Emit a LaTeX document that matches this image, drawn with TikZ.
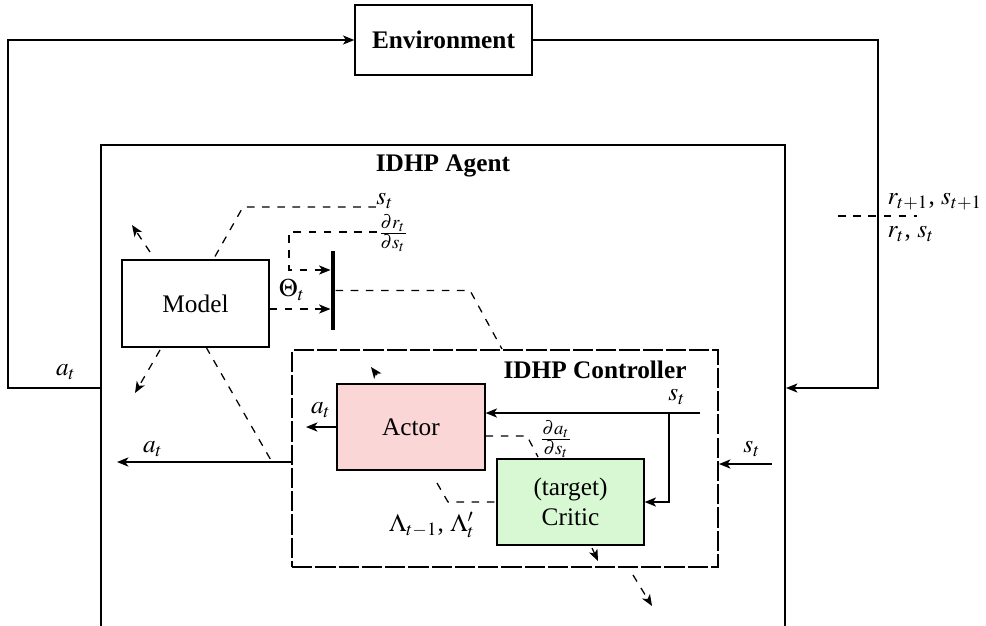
\documentclass[tikz,border=0pt]{standalone}
\usepackage{mathptmx}
\usepackage{fontspec}
\setmainfont{Liberation Serif}
\usetikzlibrary{arrows.meta}
\definecolor{actorfill}{RGB}{250,214,214}
\definecolor{criticfill}{RGB}{216,248,212}
\tikzset{
  blk/.style={draw, line width=0.5pt, inner sep=0pt},
  ttl/.style={font=\bfseries, inner sep=0pt},
  lbl/.style={inner sep=0pt},
  flow/.style={line width=0.5pt},
  iflow/.style={line width=0.75pt},
  arr/.style={-{Stealth[length=4.5pt,width=3.6pt,inset=1.2pt]}},
  dsh/.style={dashed, line width=0.5pt},
  ctrlbox/.style={draw, line width=0.8pt, dash pattern=on 8pt off 1.2pt, inner sep=0pt},
}
\begin{document}
\begin{tikzpicture}[x=0.3953pt, y=-0.3953pt]
\path[use as bounding box] (0,0) rectangle (986,625);
\clip (0,0) rectangle (986,625);

% main blocks
\node[blk, minimum width=70pt, minimum height=27.7pt, font=\bfseries] (env) at (443.5,40) {Environment};
\node[draw, line width=0.8pt, inner sep=0pt, minimum width=270.4pt, minimum height=203.6pt] (agent) at (443,402.5) {};
\node[ttl] (agentlbl) at (443,166) {IDHP Agent};
\node[blk, minimum width=58.1pt, minimum height=34.4pt] (model) at (195.5,303.5) {Model};
\node[fill=black, inner sep=0pt, minimum width=1.6pt, minimum height=31.2pt] (bar) at (333,290.5) {};
\node[ctrlbox, minimum width=168.4pt, minimum height=85.8pt] (ctrl) at (505,458.5) {};
\node[ttl] (ctrllbl) at (595,370) {IDHP Controller};
\node[blk, fill=actorfill, minimum width=58.5pt, minimum height=34pt] (actor) at (411,427) {Actor};
\node[blk, fill=criticfill, minimum width=58.1pt, minimum height=34pt, align=center] (critic) at (570.5,502) {(target)\\Critic};

% helper coordinates
\coordinate (yA) at (0,388);
\coordinate (lt) at (8,40);
\coordinate (rt) at (878,388);
\coordinate (y232) at (0,232);
\coordinate (y270) at (0,270);
\coordinate (y309) at (0,309);
\coordinate (y462) at (0,462);
\coordinate (y436) at (0,436);

% outer loop
\draw[flow,arr] (agent.west |- yA) -| (lt) -- (env.west);
\node[lbl] (la1) at (66,372) {$a_t$};
\draw[flow,arr] (env.east) -| (rt) -- (agent.east |- yA);

% reward / state labels
\coordinate (ra) at (838,216);
\coordinate (rb) at (917,216);
\draw[dsh] (ra) -- (rb);
\node[lbl, anchor=west] (lr1) at (887,202) {$r_{t+1}$, $s_{t+1}$};
\node[lbl, anchor=west] (lr2) at (887,234) {$r_t$, $s_t$};

% model related dashed lines
\node[lbl] (ls1) at (385,201) {$s_t$};
\coordinate (sk) at (243,207);
\coordinate (mt) at (213,260);
\draw[dsh] (ls1.west |- sk) -- (sk) -- (mt);
\node[lbl] (ldr) at (393,233) {$\frac{\partial r_t}{\partial s_t}$};
\coordinate (dk) at (289,270);
\draw[dsh,arr] (ldr.west |- y232) -| (dk) -- (bar.west |- y270);
\node[lbl] (lth) at (292,290) {$\Theta_t$};
\draw[dsh,arr] (model.east |- y309) -- (bar.west |- y309);
\coordinate (bk) at (470,290.5);
\coordinate (cb) at (502,349);
\draw[dsh] (bar.east) -- (bk) -- (cb);
\coordinate (ms) at (206,347);
\coordinate (me) at (272,462);
\draw[dsh] (ms) -- (me);
\coordinate (mu1) at (150,252);
\coordinate (mu2) at (132,225);
\draw[dsh,arr] (mu1) -- (mu2);
\coordinate (md1) at (160,350);
\coordinate (md2) at (135,393);
\draw[dsh,arr] (md1) -- (md2);

% agent output
\coordinate (ao) at (117,462);
\draw[iflow,arr] (ctrl.west |- y462) -- (ao);
\node[lbl] (la2) at (153,449) {$a_t$};

% controller internals
\coordinate (tk1) at (377,375);
\coordinate (tk2) at (371,367);
\draw[dsh,arr] (tk1) -- (tk2);
\coordinate (ax) at (306,427);
\draw[iflow,arr] (actor.west) -- (ax);
\node[lbl] (la3) at (321,410) {$a_t$};
\node[lbl] (ls3) at (677,397) {$s_t$};
\coordinate (sin) at (700,413);
\coordinate (sbr) at (669,413);
\draw[iflow,arr] (sin) -- (actor.east |- sin);
\draw[iflow,arr] (sbr) |- (critic.east);
\coordinate (sr) at (772,464);
\draw[iflow,arr] (sr) -- (ctrl.east |- sr);
\node[lbl] (ls4) at (752,449) {$s_t$};

\coordinate (dak) at (527,436);
\coordinate (dae) at (538,457);
\draw[dsh] (actor.east |- y436) -- (dak) -- (dae);
\node[lbl] (lda) at (556,439) {$\frac{\partial a_t}{\partial s_t}$};
\coordinate (lk1) at (437,483);
\coordinate (lk2) at (448,502);
\draw[dsh] (lk1) -- (lk2) -- (critic.west);
\node[lbl] (llam) at (432,525) {$\Lambda_{t-1}$, $\Lambda'_t$};

\coordinate (cd1) at (592,548);
\coordinate (cd2) at (598,561);
\draw[dsh,arr] (cd1) -- (cd2);
\coordinate (cd3) at (633,575);
\coordinate (cd4) at (652,606);
\draw[dsh,arr] (cd3) -- (cd4);
\end{tikzpicture}
\end{document}
